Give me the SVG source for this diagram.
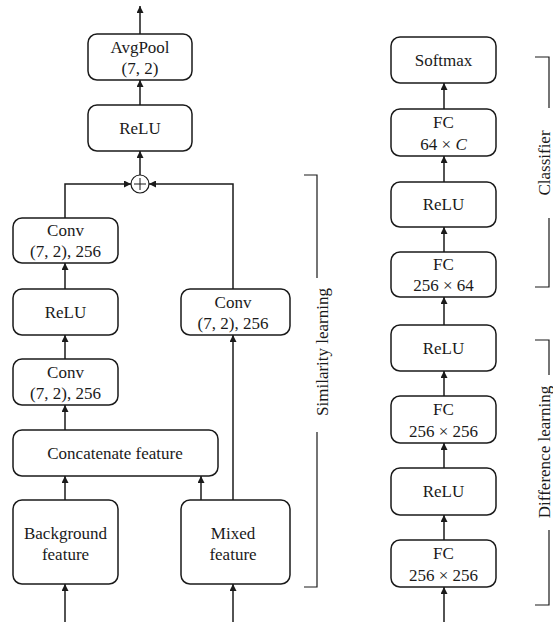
<svg xmlns="http://www.w3.org/2000/svg" width="553" height="624" viewBox="0 0 553 624" font-family="'Liberation Serif', 'Times New Roman', 'DejaVu Serif', serif">
  <defs>
    <marker id="arrow" viewBox="0 0 10 10" refX="10" refY="5" markerWidth="7" markerHeight="7" markerUnits="userSpaceOnUse" orient="auto">
      <path d="M0,0 L10,5 L0,10 z" fill="#1a1a1a"/>
    </marker>
    <style>
      .box { fill: #ffffff; stroke: #1a1a1a; stroke-width: 1.5; }
      .lbl { font-family: 'Liberation Serif', 'Times New Roman', serif; font-size: 17px; fill: #1a1a1a; text-anchor: middle; }
      .side { font-family: 'Liberation Serif', 'Times New Roman', serif; font-size: 17px; fill: #1a1a1a; text-anchor: middle; }
      .edge { fill: none; stroke: #1a1a1a; stroke-width: 1.5; }
      .brk { fill: none; stroke: #1a1a1a; stroke-width: 1.2; }
    </style>
  </defs>
  <rect width="553" height="624" fill="#ffffff"/>

  <!-- connectors -->
  <g id="connectors">
    <line class="edge" x1="140" y1="34" x2="140" y2="6" marker-end="url(#arrow)"/>
    <line class="edge" x1="140" y1="105" x2="140" y2="80" marker-end="url(#arrow)"/>
    <line class="edge" x1="140" y1="175" x2="140" y2="151" marker-end="url(#arrow)"/>
    <path class="edge" d="M65,218 V184 H131" marker-end="url(#arrow)"/>
    <path class="edge" d="M233,289 V184 H149" marker-end="url(#arrow)"/>
    <line class="edge" x1="65" y1="289" x2="65" y2="263" marker-end="url(#arrow)"/>
    <line class="edge" x1="65" y1="359" x2="65" y2="335" marker-end="url(#arrow)"/>
    <line class="edge" x1="65" y1="430" x2="65" y2="405" marker-end="url(#arrow)"/>
    <line class="edge" x1="65" y1="500" x2="65" y2="476" marker-end="url(#arrow)"/>
    <line class="edge" x1="201" y1="500" x2="201" y2="476" marker-end="url(#arrow)"/>
    <line class="edge" x1="233" y1="500" x2="233" y2="335" marker-end="url(#arrow)"/>
    <line class="edge" x1="65" y1="622" x2="65" y2="584" marker-end="url(#arrow)"/>
    <line class="edge" x1="233" y1="622" x2="233" y2="584" marker-end="url(#arrow)"/>

    <line class="edge" x1="444" y1="109" x2="444" y2="83" marker-end="url(#arrow)"/>
    <line class="edge" x1="444" y1="182" x2="444" y2="156" marker-end="url(#arrow)"/>
    <line class="edge" x1="444" y1="252" x2="444" y2="227" marker-end="url(#arrow)"/>
    <line class="edge" x1="444" y1="325" x2="444" y2="297" marker-end="url(#arrow)"/>
    <line class="edge" x1="444" y1="396" x2="444" y2="371" marker-end="url(#arrow)"/>
    <line class="edge" x1="444" y1="468" x2="444" y2="443" marker-end="url(#arrow)"/>
    <line class="edge" x1="444" y1="540" x2="444" y2="515" marker-end="url(#arrow)"/>
    <line class="edge" x1="444" y1="622" x2="444" y2="587" marker-end="url(#arrow)"/>
  </g>

  <!-- left branch -->
  <g id="avgpool">
    <rect class="box" x="88" y="34" width="104" height="46" rx="9"/>
    <text class="lbl" x="140" y="53">AvgPool</text>
    <text class="lbl" x="140" y="74">(7, 2)</text>
  </g>
  <g id="relu-top">
    <rect class="box" x="88" y="105" width="104" height="46" rx="9"/>
    <text class="lbl" x="140" y="134">ReLU</text>
  </g>
  <g id="sum">
    <circle cx="140" cy="184" r="9" fill="#ffffff" stroke="#1a1a1a" stroke-width="1.2"/>
    <path d="M134,184 H146 M140,178 V190" stroke="#1a1a1a" stroke-width="1" fill="none"/>
  </g>
  <g id="conv-a">
    <rect class="box" x="13" y="218" width="105" height="45" rx="9"/>
    <text class="lbl" x="65.5" y="236">Conv</text>
    <text class="lbl" x="65.5" y="257">(7, 2), 256</text>
  </g>
  <g id="relu-left">
    <rect class="box" x="13" y="289" width="105" height="46" rx="9"/>
    <text class="lbl" x="65.5" y="318">ReLU</text>
  </g>
  <g id="conv-b">
    <rect class="box" x="13" y="359" width="105" height="46" rx="9"/>
    <text class="lbl" x="65.5" y="378">Conv</text>
    <text class="lbl" x="65.5" y="399">(7, 2), 256</text>
  </g>
  <g id="conv-c">
    <rect class="box" x="181" y="289" width="109" height="46" rx="9"/>
    <text class="lbl" x="233" y="308">Conv</text>
    <text class="lbl" x="233" y="329">(7, 2), 256</text>
  </g>
  <g id="concat">
    <rect class="box" x="13" y="430" width="205" height="46" rx="9"/>
    <text class="lbl" x="115" y="459">Concatenate feature</text>
  </g>
  <g id="background">
    <rect class="box" x="13" y="500" width="105" height="84" rx="9"/>
    <text class="lbl" x="65.5" y="539">Background</text>
    <text class="lbl" x="65.5" y="560">feature</text>
  </g>
  <g id="mixed">
    <rect class="box" x="181" y="500" width="109" height="84" rx="9"/>
    <text class="lbl" x="233" y="539">Mixed</text>
    <text class="lbl" x="233" y="560">feature</text>
  </g>

  <!-- right branch -->
  <g id="softmax">
    <rect class="box" x="391" y="37" width="105" height="46" rx="9"/>
    <text class="lbl" x="443.5" y="66">Softmax</text>
  </g>
  <g id="fc-c">
    <rect class="box" x="391" y="109" width="105" height="47" rx="9"/>
    <text class="lbl" x="443.5" y="128">FC</text>
    <text class="lbl" x="443.5" y="150">64 × <tspan font-style="italic">C</tspan></text>
  </g>
  <g id="relu-c">
    <rect class="box" x="391" y="182" width="105" height="45" rx="9"/>
    <text class="lbl" x="443.5" y="210">ReLU</text>
  </g>
  <g id="fc-64">
    <rect class="box" x="391" y="252" width="105" height="45" rx="9"/>
    <text class="lbl" x="443.5" y="270">FC</text>
    <text class="lbl" x="443.5" y="291">256 × 64</text>
  </g>
  <g id="relu-d2">
    <rect class="box" x="391" y="325" width="105" height="46" rx="9"/>
    <text class="lbl" x="443.5" y="354">ReLU</text>
  </g>
  <g id="fc-256b">
    <rect class="box" x="391" y="396" width="105" height="47" rx="9"/>
    <text class="lbl" x="443.5" y="415">FC</text>
    <text class="lbl" x="443.5" y="437">256 × 256</text>
  </g>
  <g id="relu-d1">
    <rect class="box" x="391" y="468" width="105" height="47" rx="9"/>
    <text class="lbl" x="443.5" y="497">ReLU</text>
  </g>
  <g id="fc-256a">
    <rect class="box" x="391" y="540" width="105" height="47" rx="9"/>
    <text class="lbl" x="443.5" y="559">FC</text>
    <text class="lbl" x="443.5" y="581">256 × 256</text>
  </g>

  <!-- stage brackets -->
  <g id="similarity-learning">
    <path class="brk" d="M304,175 H317 V278"/>
    <path class="brk" d="M317,432 V587 H304"/>
    <text class="side" transform="translate(328,352) rotate(-90)">Similarity learning</text>
  </g>
  <g id="classifier">
    <path class="brk" d="M535,57 H549 V108"/>
    <path class="brk" d="M549,218 V287 H535"/>
    <text class="side" transform="translate(550,163) rotate(-90)">Classifier</text>
  </g>
  <g id="difference-learning">
    <path class="brk" d="M535,340 H549 V375"/>
    <path class="brk" d="M549,530 V605 H535"/>
    <text class="side" transform="translate(550,452) rotate(-90)">Difference learning</text>
  </g>
</svg>
